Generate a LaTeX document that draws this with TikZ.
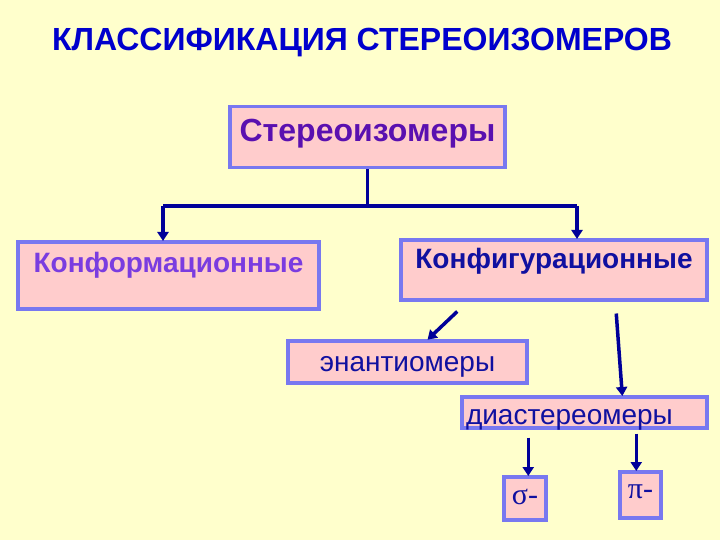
\documentclass[tikz,border=0pt]{standalone}
\usepackage{fontspec}
\setmainfont{Liberation Sans}
\newfontfamily\greekfont{Liberation Serif}
\definecolor{StereoBg}{HTML}{FFFFCC}
\definecolor{StereoPink}{HTML}{FFCCCC}
\definecolor{StereoEdge}{HTML}{7878F0}
\definecolor{StereoNavy}{HTML}{000099}
\definecolor{StereoTitle}{HTML}{0000CC}
\definecolor{StereoPurple}{HTML}{5A10B0}
\definecolor{StereoLilac}{HTML}{7A3CE0}
\definecolor{StereoBlue}{HTML}{1010A0}
\usetikzlibrary{arrows.meta,positioning}
\tikzset{
  box/.style={draw=StereoEdge, fill=StereoPink, line width=3.5pt, inner sep=0pt, anchor=north, align=center, text=StereoBlue},
  bigbold/.style={font=\fontsize{28}{30}\selectfont\bfseries},
  plain/.style={font=\fontsize{28}{30}\selectfont},
  line/.style={StereoNavy, line width=3.5pt},
  arrow/.style={-{Triangle[length=9pt,width=11pt]}, StereoNavy, line width=3.5pt, shorten >=-1pt}
}

\begin{document}
\begin{tikzpicture}[x=1pt, y=-1pt]
    \fill[StereoBg] (0,0) rectangle (720,540);
    \useasboundingbox (0,0) rectangle (720,540);

    \node[text=StereoTitle, font=\fontsize{32}{34}\selectfont\bfseries] (title) at (362,43) {КЛАССИФИКАЦИЯ СТЕРЕОИЗОМЕРОВ};

    \node[box, minimum width=275pt, text height=35pt, text depth=26pt, text=StereoPurple, font=\fontsize{32}{34}\selectfont\bfseries] (stereo) at (367.5,105) {Стереоизомеры};
    \node[box, bigbold, minimum width=301pt, text height=31pt, text depth=36pt, text=StereoLilac] (conform) at (168.5,240) {Конформационные};
    \node[box, bigbold, minimum width=306pt, text height=29pt, text depth=31pt] (config) at (554,238) {Конфигурационные};
    \node[box, plain, minimum width=239pt, text height=31pt, text depth=11pt] (enant) at (407.5,339) {энантиомеры};
    \node[box, plain, text width=237pt, inner xsep=4pt, align=left, text height=28pt, text depth=3pt] (diast) at (584.5,395) {диастереомеры};
    \node[box, minimum width=42pt, text height=28pt, text depth=15pt, font=\greekfont\fontsize{30}{32}\selectfont] (sigma) at (525,475) {σ-};
    \node[box, minimum width=41pt, text height=27pt, text depth=19pt, font=\greekfont\fontsize{30}{32}\selectfont] (pi) at (640.5,470) {π-};

    % tree from the top box
    \coordinate (forkL) at (163,206);
    \coordinate (forkR) at (577,206);
    \draw[line] (stereo.south) -- (stereo.south |- forkL);
    \draw[line] (forkL) -- (forkR);
    \draw[arrow] (forkL) -- (forkL |- conform.north);
    \draw[arrow] (forkR) -- (forkR |- config.north);

    \draw[arrow] ([xshift=58pt,yshift=-10pt]config.south west) -- ([xshift=142pt]enant.north west);
    \draw[arrow] ([xshift=217pt,yshift=-12pt]config.south west) -- ([xshift=162pt]diast.north west);
    \draw[arrow] ([xshift=68pt,yshift=-8pt]diast.south west) -- ([xshift=26pt]sigma.north west);
    \draw[arrow] ([xshift=176pt,yshift=-4pt]diast.south west) -- ([xshift=18pt]pi.north west);
  \end{tikzpicture}
\end{document}
